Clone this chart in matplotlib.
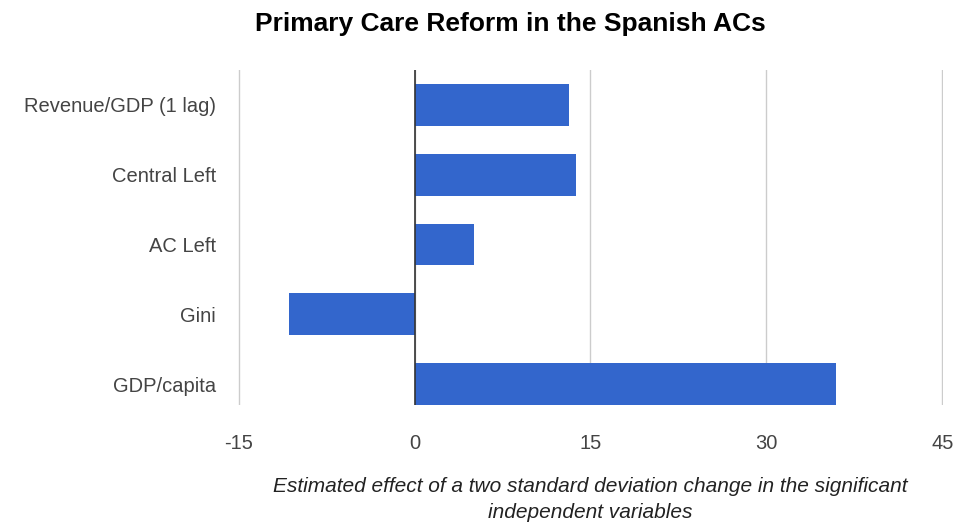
import matplotlib.pyplot as plt

# Chart data
categories = ['Revenue/GDP (1 lag)', 'Central Left', 'AC Left', 'Gini', 'GDP/capita']
effects = [13.2, 13.8, 5.1, -10.7, 35.9]
xticks = [-15, 0, 15, 30, 45]

plt.rcParams['font.family'] = ['Liberation Sans', 'DejaVu Sans']

fig = plt.figure(figsize=(9.57, 5.25), dpi=100)
ax = fig.add_axes([0.2487, 0.2286, 0.7366, 0.6381])

pos = list(range(len(categories)))
ax.barh(pos, effects, height=0.6, color='#3366cc', zorder=3)

ax.set_ylim(4.3, -0.5)
ax.set_xlim(-15.05, 45.05)
ax.set_xticks(xticks)
ax.set_xticklabels([str(t) for t in xticks])
ax.set_yticks(pos)
ax.set_yticklabels(categories)

# gridlines and zero line
ax.grid(axis='x', color='#cccccc', linewidth=1, zorder=0)
ax.axvline(0, color='#333333', linewidth=1.2, zorder=4)
for s in ax.spines.values():
    s.set_visible(False)
ax.tick_params(length=0, labelsize=14.5, labelcolor='#444444')
ax.tick_params(axis='y', pad=16)
ax.tick_params(axis='x', pad=21)

ax.set_xlabel('Estimated effect of a two standard deviation change in the significant\nindependent variables',
              fontsize=15, style='italic', color='#222222', labelpad=17, linespacing=1.5)
fig.suptitle('Primary Care Reform in the Spanish ACs', fontsize=19, fontweight='bold',
             x=0.533, y=0.978)

fig.savefig('out.png', dpi=100)
